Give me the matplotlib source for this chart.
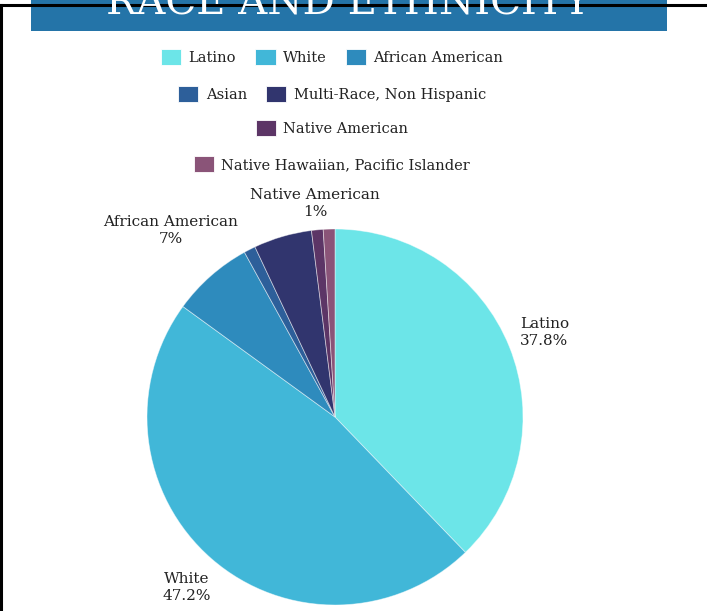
import matplotlib
matplotlib.use("Agg")
import matplotlib.pyplot as plt
from matplotlib.patches import Patch, Rectangle
import numpy as np

categories = ["Latino", "White", "African American", "Asian",
              "Multi-Race, Non Hispanic", "Native American",
              "Native Hawaiian, Pacific Islander"]
values = [37.8, 47.2, 7, 1, 5, 1, 1]
colors = ["#6ce5e8", "#41b7d8", "#2e8bbd", "#2d5f9a", "#31356e", "#5c3566", "#8a5478"]
shown_labels = [True, True, True, False, False, True, False]
label_dist = [1.2, 1.2, 1.32, 1.2, 1.2, 1.14, 1.2]
legend_rows = [[0, 1, 2], [3, 4], [5], [6]]
title = "RACE AND ETHNICITY"

FONT = "DejaVu Serif"
W, H = 707, 611
fig = plt.figure(figsize=(W / 100, H / 100), dpi=100)
fig.patch.set_facecolor("white")

def fx(px):
    return px / W

def fy(py):
    return 1 - py / H

# frame lines
fig.add_artist(plt.Line2D([fx(1), fx(1)], [fy(5), 0], color="black", lw=2.2, transform=fig.transFigure))
fig.add_artist(plt.Line2D([0, 1], [fy(5), fy(5)], color="black", lw=2.2, transform=fig.transFigure))

# banner
fig.add_artist(Rectangle((fx(31), fy(31)), fx(667) - fx(31), 1 - fy(31) + 0.01,
                         transform=fig.transFigure, facecolor="#2474a8", edgecolor="none"))
fig.text(fx(348), fy(14.5), title, ha="center", va="baseline", color="white",
         fontsize=29, family=FONT)

# legends
row_y = [57, 94, 128, 164]
for row, y in zip(legend_rows, row_y):
    handles = [Patch(facecolor=colors[i], edgecolor="white", linewidth=0.6) for i in row]
    labels = [categories[i] for i in row]
    fig.legend(handles, labels, ncol=len(row), loc="center",
               bbox_to_anchor=(fx(332), fy(y)), frameon=False,
               prop={"family": FONT, "size": 10.5}, handlelength=1.4,
               handleheight=1.4, handletextpad=0.5, columnspacing=1.3,
               labelcolor="#222222")

# pie
cx, cy, R = 335, 417, 188
ax = fig.add_axes([fx(cx - R), fy(cy + R), 2 * R / W, 2 * R / H])
wedges, _ = ax.pie(values, colors=colors, startangle=90, counterclock=False,
                   radius=1, wedgeprops={"edgecolor": (1, 1, 1, 0.5), "linewidth": 0.6})
ax.set_xlim(-1, 1)
ax.set_ylim(-1, 1)
ax.set_aspect("equal")
ax.axis("off")

total = sum(values)
cum = 0
for i, v in enumerate(values):
    mid = (cum + v / 2) / total
    cum += v
    if not shown_labels[i]:
        continue
    ang = np.deg2rad(90 - mid * 360)
    d = label_dist[i]
    pct = f"{v:g}%"
    ax.text(d * np.cos(ang), d * np.sin(ang), f"{categories[i]}\n{pct}",
            ha="center", va="center", fontsize=11, family=FONT, color="#222222",
            linespacing=1.25, clip_on=False)

fig.savefig("out.png", dpi=100)
